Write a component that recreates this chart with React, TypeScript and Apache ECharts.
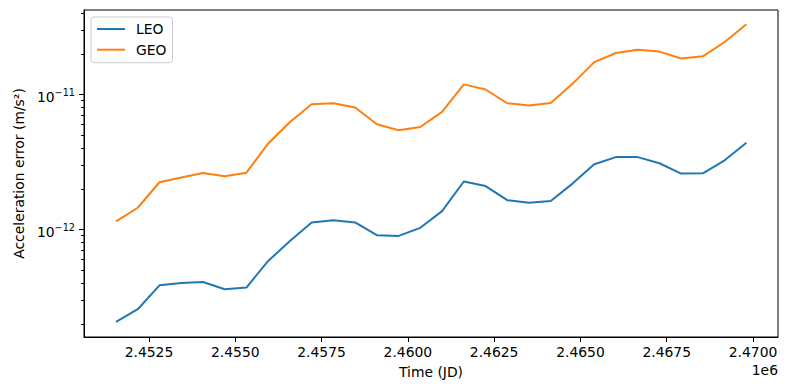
import React, { useEffect, useRef } from "react";
import * as echarts from "echarts";

const timeJD = [
  2451545, 2452175, 2452804, 2453434, 2454064, 2454694, 2455323, 2455953, 2456583, 2457213,
  2457842, 2458472, 2459102, 2459732, 2460361, 2460991, 2461621, 2462251, 2462880, 2463510,
  2464140, 2464770, 2465399, 2466029, 2466659, 2467289, 2467918, 2468548, 2469178, 2469808,
];

const leoError = [
  2.07e-13, 2.57e-13, 3.86e-13, 4.02e-13, 4.09e-13, 3.61e-13, 3.72e-13, 5.85e-13, 8.23e-13, 1.13e-12,
  1.17e-12, 1.13e-12, 9.08e-13, 8.97e-13, 1.03e-12, 1.37e-12, 2.27e-12, 2.1e-12, 1.65e-12, 1.58e-12,
  1.63e-12, 2.19e-12, 3.05e-12, 3.44e-12, 3.44e-12, 3.1e-12, 2.6e-12, 2.61e-12, 3.26e-12, 4.39e-12,
];

const geoError = [
  1.15e-12, 1.45e-12, 2.24e-12, 2.43e-12, 2.62e-12, 2.48e-12, 2.64e-12, 4.34e-12, 6.27e-12, 8.47e-12,
  8.62e-12, 8.01e-12, 6.03e-12, 5.44e-12, 5.75e-12, 7.44e-12, 1.19e-11, 1.09e-11, 8.62e-12, 8.29e-12,
  8.67e-12, 1.2e-11, 1.74e-11, 2.03e-11, 2.15e-11, 2.08e-11, 1.85e-11, 1.92e-11, 2.45e-11, 3.32e-11,
];

const xTicks = [2452500, 2455000, 2457500, 2460000, 2462500, 2465000, 2467500, 2470000];
const yMajorTicks = [1e-12, 1e-11];
const yMinorTicks = [
  2e-13, 3e-13, 4e-13, 5e-13, 6e-13, 7e-13, 8e-13, 9e-13,
  2e-12, 3e-12, 4e-12, 5e-12, 6e-12, 7e-12, 8e-12, 9e-12,
  2e-11, 3e-11, 4e-11,
];

const FONT = "DejaVu Sans";
const FS = 13.9;

export default function App() {
  const ref = useRef<HTMLDivElement>(null);
  useEffect(() => {
    const chart = echarts.init(ref.current!, null, { renderer: "svg" });
    const yMin = 1.6e-13;
    const yMax = 4.23e-11;
    chart.setOption({
      animation: false,
      backgroundColor: "#ffffff",
      textStyle: { fontFamily: FONT, color: "#000" },
      grid: {
        left: 84,
        top: 10,
        right: 9,
        bottom: 53,
        show: true,
        borderColor: "#000",
        borderWidth: 1,
        backgroundColor: "transparent",
      },
      legend: {
        orient: "vertical",
        left: 91,
        top: 17,
        padding: [5, 6, 6, 6],
        itemWidth: 28,
        itemHeight: 2,
        itemGap: 6.7,
        icon: "rect",
        backgroundColor: "rgba(255,255,255,0.8)",
        borderColor: "#cccccc",
        borderWidth: 1,
        borderRadius: 3,
        textStyle: { fontFamily: FONT, fontSize: FS, color: "#000", lineHeight: 14, padding: [0, 0, 0, 6] },
        data: ["LEO", "GEO"],
      },
      xAxis: {
        type: "value",
        min: 2450617,
        max: 2470724,
        name: "Time (JD)",
        nameLocation: "middle",
        nameGap: 28,
        nameTextStyle: { fontFamily: FONT, fontSize: FS, color: "#000" },
        axisLine: { show: true, lineStyle: { color: "#000", width: 1 } },
        axisTick: { show: true, length: 5, customValues: xTicks, lineStyle: { color: "#000", width: 1 } },
        axisLabel: {
          customValues: xTicks,
          margin: 8,
          fontFamily: FONT,
          fontSize: FS,
          color: "#000",
          formatter: (v: number) => (v / 1e6).toFixed(4),
        },
        splitLine: { show: false },
      },
      yAxis: [
        {
          type: "log",
          logBase: 10,
          min: yMin,
          max: yMax,
          name: "Acceleration error (m/s²)",
          nameLocation: "middle",
          nameGap: 57,
          nameTextStyle: { fontFamily: FONT, fontSize: FS, color: "#000" },
          axisLine: { show: true, lineStyle: { color: "#000", width: 1 } },
          axisTick: { show: true, length: 5, customValues: yMajorTicks, lineStyle: { color: "#000", width: 1 } },
          minorTick: { show: false },
          axisLabel: {
            customValues: yMajorTicks,
            margin: 9,
            formatter: (v: number) => {
              const e = Math.round(Math.log10(v));
              return "{b|10}{sup|" + (e < 0 ? "−" : "") + Math.abs(e) + "}";
            },
            rich: {
              b: { fontFamily: FONT, fontSize: FS, color: "#000", lineHeight: 14, padding: [4, 0, 0, 0] },
              sup: { fontFamily: FONT, fontSize: 9.7, color: "#000", lineHeight: 11, verticalAlign: "top" },
            },
          },
          splitLine: { show: false },
        },
        {
          type: "log",
          logBase: 10,
          min: yMin,
          max: yMax,
          position: "left",
          axisLine: { show: false },
          axisTick: { show: true, length: 3, customValues: yMinorTicks, lineStyle: { color: "#000", width: 1 } },
          axisLabel: { show: false },
          splitLine: { show: false },
        },
      ],
      series: [
        {
          name: "LEO",
          type: "line",
          yAxisIndex: 0,
          symbol: "none",
          color: "#1f77b4",
          lineStyle: { color: "#1f77b4", width: 2 },
          data: timeJD.map((t, i) => [t, leoError[i]]),
        },
        {
          name: "GEO",
          type: "line",
          yAxisIndex: 0,
          symbol: "none",
          color: "#ff7f0e",
          lineStyle: { color: "#ff7f0e", width: 2 },
          data: timeJD.map((t, i) => [t, geoError[i]]),
        },
      ],
      graphic: [
        {
          type: "text",
          right: 9,
          top: 363,
          style: { text: "1e6", font: `${FS}px '${FONT}'`, fill: "#000" },
        },
      ],
    });
    return () => chart.dispose();
  }, []);
  return <div ref={ref} style={{ position: "fixed", left: 0, top: 0, width: 787, height: 390 }} />;
}
